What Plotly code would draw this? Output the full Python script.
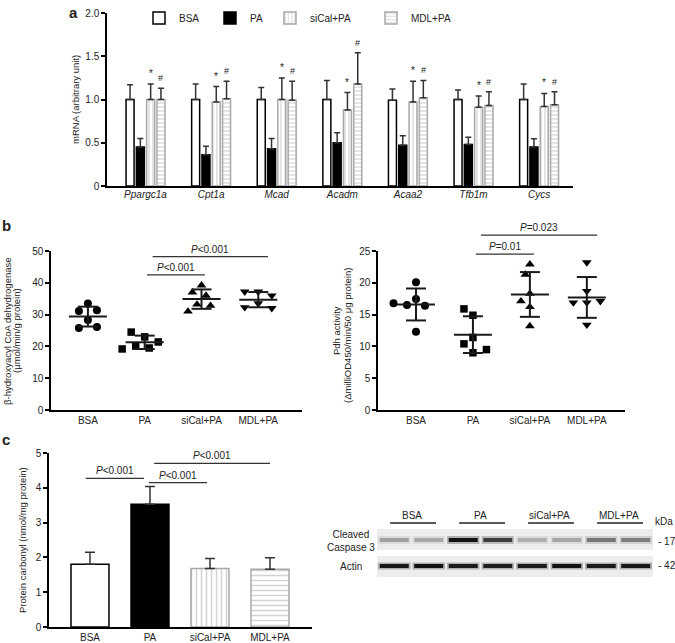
import numpy as np
import plotly.graph_objects as go

W, H = 675, 643

# ---------------- data ----------------
genes = ["Ppargc1a", "Cpt1a", "Mcad", "Acadm", "Acaa2", "Tfb1m", "Cycs"]
groups = ["BSA", "PA", "siCal+PA", "MDL+PA"]

mrna_bsa = [1.00, 1.00, 1.00, 1.00, 0.99, 1.00, 1.00]
mrna_bsa_err = [0.17, 0.18, 0.14, 0.22, 0.13, 0.11, 0.18]
mrna_pa = [0.45, 0.36, 0.43, 0.50, 0.47, 0.48, 0.45]
mrna_pa_err = [0.10, 0.10, 0.12, 0.115, 0.11, 0.085, 0.095]
mrna_sical = [1.00, 0.97, 1.00, 0.88, 0.97, 0.91, 0.92]
mrna_sical_err = [0.18, 0.18, 0.25, 0.20, 0.24, 0.13, 0.15]
mrna_mdl = [1.00, 1.01, 0.99, 1.18, 1.02, 0.93, 0.94]
mrna_mdl_err = [0.13, 0.20, 0.22, 0.36, 0.20, 0.16, 0.15]

beta_bsa = [33.5, 31.1, 31.4, 28.3, 25.8, 26.1]
beta_pa = [23.0, 24.5, 21.4, 20.1, 19.5, 19.2]
beta_sical = [39.2, 37.0, 36.0, 33.2, 32.8, 31.0]
beta_mdl = [37.2, 37.2, 36.0, 33.5, 32.3, 32.0]

pdh_bsa = [20.1, 17.45, 16.5, 16.4, 16.8, 12.3]
pdh_pa = [14.9, 15.9, 11.4, 10.4, 9.0, 9.5]
pdh_sical = [22.9, 21.3, 18.3, 17.1, 16.2, 13.2]
pdh_mdl = [23.2, 18.7, 16.9, 16.9, 17.1, 13.4]

carbonyl = [1.80, 3.53, 1.68, 1.66]
carbonyl_err = [0.35, 0.51, 0.29, 0.33]

casp3_intensity = [0.28, 0.25, 0.95, 0.72, 0.22, 0.26, 0.45, 0.42]
actin_intensity = [0.92, 0.95, 0.90, 0.88, 0.90, 0.95, 0.90, 0.92]

# ---------------- helpers ----------------
def fx(p):
    return p / W

def fy(p):
    return 1 - p / H

FONT = "Liberation Sans, Arial, Helvetica, sans-serif"
TXT = "#222"
GRAY = "#a8a8a8"

def style(k, psize):
    base = [
        dict(color="white", line=dict(color="black", width=1.5)),
        dict(color="black", line=dict(color="black", width=1.5)),
        dict(color="white", line=dict(color=GRAY, width=1.5),
             pattern=dict(shape="|", fgcolor=GRAY, bgcolor="white", size=psize, solidity=0.3)),
        dict(color="white", line=dict(color=GRAY, width=1.5),
             pattern=dict(shape="-", fgcolor=GRAY, bgcolor="white", size=psize, solidity=0.3)),
    ]
    return base[k]

fig = go.Figure()
annotations = []
shapes = []

# ---------------- panel a ----------------
series_a = [(mrna_bsa, mrna_bsa_err), (mrna_pa, mrna_pa_err),
            (mrna_sical, mrna_sical_err), (mrna_mdl, mrna_mdl_err)]
step = 0.157
for k, (vals, errs) in enumerate(series_a):
    xs = np.arange(len(genes)) + (k - 1.5) * step
    fig.add_trace(go.Bar(
        x=xs, y=vals, width=0.122, marker=style(k, 4), name=groups[k],
        legend="legend" if k == 0 else f"legend{k+1}", showlegend=True,
        error_y=dict(type="data", array=errs, arrayminus=[0] * len(errs), symmetric=False,
                     color="#333", thickness=1.5, width=3),
        xaxis="x", yaxis="y"))
    if k >= 2:
        for xi, v, e in zip(xs, vals, errs):
            annotations.append(dict(x=xi, y=v + e, xref="x", yref="y",
                                    text="*" if k == 2 else "#", showarrow=False,
                                    xanchor="center", yanchor="bottom", yshift=3,
                                    font=dict(size=9 if k == 3 else 10, color=TXT)))

# ---------------- panel b ----------------
def beeswarm(vals, px_per_unit, px_per_x, diam=10.5, stepp=4.5):
    placed = []
    offs = []
    for v in vals:
        yp = v * px_per_unit
        cands = [0]
        for j in range(1, 8):
            cands += [-j * stepp, j * stepp]
        for c in cands:
            if all(np.hypot(c - px, yp - py) >= diam for px, py in placed):
                break
        placed.append((c, yp))
        offs.append(c / px_per_x)
    return offs

symbols = ["circle", "square", "triangle-up", "triangle-down"]
msizes = [8, 7.5, 8.5, 8.5]

def dot_panel(data, xa, ya, px_per_unit, px_per_x):
    lx, ly = [], []
    for k, vals in enumerate(data):
        offs = beeswarm(vals, px_per_unit, px_per_x)
        fig.add_trace(go.Scatter(
            x=[k + o for o in offs], y=vals, mode="markers", showlegend=False,
            marker=dict(symbol=symbols[k], size=msizes[k], color="black"),
            xaxis=xa, yaxis=ya))
        m = float(np.mean(vals))
        s = float(np.std(vals, ddof=1))
        hw, cw = 19 / px_per_x, 10 / px_per_x
        lx += [k - hw, k + hw, None, k - cw, k + cw, None, k - cw, k + cw, None, k, k, None]
        ly += [m, m, None, m + s, m + s, None, m - s, m - s, None, m - s, m + s, None]
    fig.add_trace(go.Scatter(x=lx, y=ly, mode="lines", showlegend=False,
                             line=dict(color="#1a1a1a", width=2), xaxis=xa, yaxis=ya))

dot_panel([beta_bsa, beta_pa, beta_sical, beta_mdl], "x2", "y2", 159 / 50, 56.7)
dot_panel([pdh_bsa, pdh_pa, pdh_sical, pdh_mdl], "x3", "y3", 159 / 25, 57)

# ---------------- panel c ----------------
for k in range(4):
    fig.add_trace(go.Bar(
        x=[k], y=[carbonyl[k]], width=0.633, marker=style(k, 5), showlegend=False,
        error_y=dict(type="data", array=[carbonyl_err[k]], arrayminus=[0], symmetric=False,
                     color="#333", thickness=1.5, width=5),
        xaxis="x4", yaxis="y4"))

# ---------------- brackets ----------------
ymax = {"y2": 50, "y3": 25, "y4": 5}
brackets = [
    ("x2", "y2", 1.04, 2.06, 42.5, "<i>P</i>&lt;0.001"),
    ("x2", "y2", 1.14, 3.17, 48.2, "<i>P</i>&lt;0.001"),
    ("x3", "y3", 1.05, 2.07, 24.5, "<i>P</i>=0.01"),
    ("x3", "y3", 1.14, 3.18, 27.5, "<i>P</i>=0.023"),
    ("x4", "y4", -0.07, 0.90, 4.27, "<i>P</i>&lt;0.001"),
    ("x4", "y4", 0.98, 1.95, 4.15, "<i>P</i>&lt;0.001"),
    ("x4", "y4", 1.07, 3.00, 4.70, "<i>P</i>&lt;0.001"),
]
for xa, ya, x0, x1, yv, t in brackets:
    yd = yv / ymax[ya]
    shapes.append(dict(type="line", xref=xa, yref=f"{ya} domain", x0=x0, x1=x1, y0=yd, y1=yd,
                       line=dict(color="#333", width=1.2)))
    annotations.append(dict(x=(x0 + x1) / 2, y=yd, xref=xa, yref=f"{ya} domain", text=t,
                            showarrow=False, xanchor="center", yanchor="bottom", yshift=0,
                            font=dict(size=10, color=TXT)))

# ---------------- western blot ----------------
lanes = np.arange(1, 9)
for y0, y1 in [(27, 48), (0, 21)]:
    shapes.append(dict(type="rect", xref="x5", yref="y5", x0=0.5, x1=8.5, y0=y0, y1=y1,
                       fillcolor="#ededed", line=dict(width=0), layer="below"))
for lane, ci, ai in zip(lanes, casp3_intensity, actin_intensity):
    for yb, inten, w1, w2 in [(37, ci, 8, 4), (11, ai, 7, 4)]:
        fig.add_trace(go.Scatter(x=[lane - 0.47, lane + 0.47], y=[yb, yb], mode="lines",
                                 line=dict(color=f"rgba(20,20,20,{0.3*inten:.2f})", width=w1),
                                 showlegend=False, xaxis="x5", yaxis="y5", hoverinfo="skip"))
        fig.add_trace(go.Scatter(x=[lane - 0.42, lane + 0.42], y=[yb, yb], mode="lines",
                                 line=dict(color=f"rgba(10,10,10,{inten:.2f})", width=w2),
                                 showlegend=False, xaxis="x5", yaxis="y5", hoverinfo="skip"))
ux, uy = [], []
for k, g in enumerate(groups):
    ux += [2 * k + 0.88, 2 * k + 2.21, None]
    uy += [54, 54, None]
    annotations.append(dict(x=2 * k + 1.5, y=62, xref="x5", yref="y5", text=g, showarrow=False,
                            xanchor="center", yanchor="middle", font=dict(size=10, color=TXT)))
fig.add_trace(go.Scatter(x=ux, y=uy, mode="lines", line=dict(color="#222", width=1.3),
                         showlegend=False, xaxis="x5", yaxis="y5"))

def pa(x, y, text, size=10, xanchor="center", **kw):
    d = dict(x=fx(x), y=fy(y), xref="paper", yref="paper", text=text, showarrow=False,
             xanchor=xanchor, yanchor="middle",
             font=dict(size=size, color=TXT, family=FONT))
    d.update(kw)
    annotations.append(d)

pa(351, 541, "Cleaved<br>Caspase 3", size=10)
pa(351, 566, "Actin", size=10)
pa(664, 521, "kDa", size=10)
pa(656, 541, "- 17", size=10, xanchor="left")
pa(656, 565, "- 42", size=10, xanchor="left")

# panel letters
pa(73, 12, "<b>a</b>", size=15)
pa(6, 226, "<b>b</b>", size=15)
pa(6, 440, "<b>c</b>", size=15)

# axis titles
pa(75, 100, "mRNA (arbitrary unit)", size=9.5, textangle=-90)
pa(7, 331, "β-hydroxyacyl CoA dehydrogenase", size=9.5, textangle=-90)
pa(16, 331, "(μmol/min/g protein)", size=9.5, textangle=-90)
pa(336, 331, "Pdh activity", size=9.5, textangle=-90)
pa(347, 336, "(ΔmilliOD450/min/50 μg protein)", size=9.5, textangle=-90)
pa(22, 540, "Protein carbonyl (nmol/mg protein)", size=9.5, textangle=-90)

# ---------------- layout ----------------
def xax(d0, d1, rng, anchor, ticktext, lw=1.5, size=10, standoff=0):
    return dict(domain=[fx(d0), fx(d1)], range=rng, anchor=anchor, showline=True,
                linecolor="black", linewidth=lw, ticks="", tickvals=list(range(len(ticktext))),
                ticktext=ticktext, tickfont=dict(size=size, color=TXT), showgrid=False,
                zeroline=False, fixedrange=True, automargin=False, ticklabelstandoff=standoff)

def yax(top, bottom, rng, anchor, tickvals, ticktext=None):
    return dict(domain=[fy(bottom), fy(top)], range=rng, anchor=anchor, showline=True,
                linecolor="black", linewidth=1.5, ticks="outside", ticklen=4, tickwidth=1.5,
                tickcolor="black", tickvals=tickvals, ticktext=ticktext or [str(v) for v in tickvals],
                tickfont=dict(size=10, color=TXT), showgrid=False, zeroline=False, fixedrange=True,
                automargin=False)

legend_x = [159, 230, 290, 391]
layout = dict(
    width=W, height=H, margin=dict(l=0, r=0, t=0, b=0, pad=0, autoexpand=False),
    paper_bgcolor="white", plot_bgcolor="white",
    font=dict(family=FONT, color=TXT, size=10),
    barmode="overlay",
    xaxis=xax(107, 573, [-0.587, 6.517], "y", [f"<i>{g}</i>" for g in genes], lw=2, standoff=-2),
    yaxis=yax(13, 186, [0, 2], "x", [0, 0.5, 1, 1.5, 2], ["0", "0.5", "1.0", "1.5", "2.0"]),
    xaxis2=xax(51, 302, [-0.65, 3.77], "y2", groups),
    yaxis2=yax(251, 410, [0, 50], "x2", [0, 10, 20, 30, 40, 50]),
    xaxis3=xax(378, 625, [-0.667, 3.67], "y3", groups),
    yaxis3=yax(251, 410, [0, 25], "x3", [0, 5, 10, 15, 20, 25]),
    xaxis4=xax(49, 312, [-0.683, 3.7], "y4", groups),
    yaxis4=yax(453, 627, [0, 5], "x4", [0, 1, 2, 3, 4, 5]),
    xaxis5=dict(domain=[fx(377), fx(653)], range=[0.5, 8.5], anchor="y5", visible=False,
                fixedrange=True),
    yaxis5=dict(domain=[fy(577), fy(505)], range=[0, 72], anchor="x5", visible=False,
                fixedrange=True),
    annotations=annotations,
    shapes=shapes,
)
for i, lx in enumerate(legend_x):
    key = "legend" if i == 0 else f"legend{i+1}"
    layout[key] = dict(x=fx(lx - 20), y=fy(18), xanchor="left", yanchor="middle",
                       orientation="h", bgcolor="rgba(0,0,0,0)", borderwidth=0,
                       font=dict(size=10, color=TXT, family=FONT))
fig.update_layout(**layout)

fig.write_html("out.html", config={"displayModeBar": False},
               post_script="document.body.style.margin='0px';")
